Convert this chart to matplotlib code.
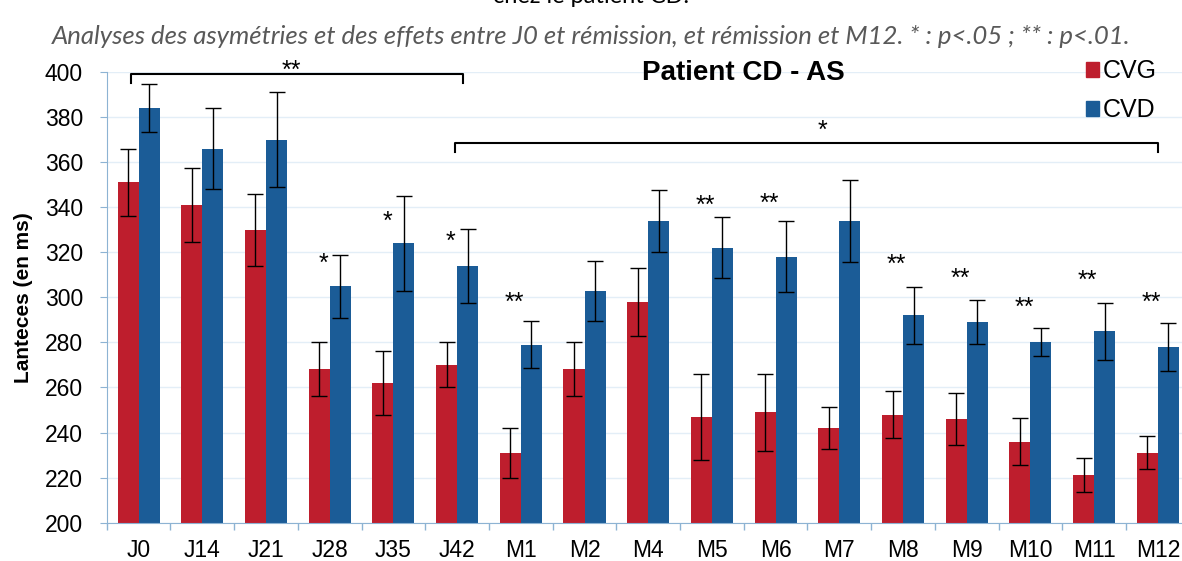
import numpy as np
import matplotlib
matplotlib.use("Agg")
import matplotlib.pyplot as plt
from matplotlib.patches import Patch

# data
periods = ["J0", "J14", "J21", "J28", "J35", "J42", "M1", "M2", "M4", "M5",
           "M6", "M7", "M8", "M9", "M10", "M11", "M12"]
cvg = [351, 341, 330, 268, 262, 270, 231, 268, 298, 247, 249, 242, 248, 246, 236, 221, 231]
cvg_err = [15, 16.5, 16, 12, 14, 10, 11, 12, 15, 19, 17, 9.5, 10.5, 11.5, 10.5, 7.5, 7.3]
cvd = [384, 366, 370, 305, 324, 314, 279, 303, 334, 322, 318, 334, 292, 289, 280, 285, 278]
cvd_err = [10.5, 18, 21, 14, 21, 16.5, 10.5, 13.3, 13.8, 13.5, 15.7, 18.2, 12.5, 9.7, 6.2, 12.6, 10.5]

# significance marks: (category index, label, height)
stars = [(3, "*", 315), (4, "*", 333.5), (5, "*", 324.5), (6, "**", 297.5),
         (9, "**", 340.7), (10, "**", 341.5), (12, "**", 314.6), (13, "**", 308.2),
         (14, "**", 295.2), (15, "**", 307.5), (16, "**", 297.5)]

red = "#BE1E2D"
blue = "#1B5C97"
axis_col = "#8DB3D3"

plt.rcParams['font.family'] = ['Liberation Sans', 'DejaVu Sans']

fig = plt.figure(figsize=(11.82, 5.61), dpi=100)
ax = fig.add_axes([0.0903, 0.0683, 0.9162, 0.8034])

x = np.arange(len(periods))
w = 0.33
ax.bar(x - w / 2, cvg, w, color=red, zorder=2)
ax.bar(x + w / 2, cvd, w, color=blue, zorder=2)
ax.errorbar(x - w / 2, cvg, yerr=cvg_err, fmt="none", ecolor="black",
            elinewidth=1, capsize=6, capthick=1, zorder=3)
ax.errorbar(x + w / 2, cvd, yerr=cvd_err, fmt="none", ecolor="black",
            elinewidth=1, capsize=6, capthick=1, zorder=3)

ax.set_xlim(-0.5, len(periods) - 0.5)
ax.set_ylim(200, 400)
ax.set_yticks(np.arange(200, 401, 20))
ax.set_xticks(x)
ax.set_xticklabels(periods)
ax.set_xticks(np.arange(-0.5, len(periods), 1), minor=True)
ax.tick_params(axis="x", which="major", length=0, pad=12, labelsize=16.5)
ax.tick_params(axis="x", which="minor", length=5, color=axis_col, width=1)
ax.tick_params(axis="y", length=5, color=axis_col, labelsize=16.5, pad=12)
ax.yaxis.grid(True, color="#E3EEF7", linewidth=1, zorder=0)
ax.set_axisbelow(True)
for s in ["top", "right"]:
    ax.spines[s].set_visible(False)
for s in ["left", "bottom"]:
    ax.spines[s].set_color(axis_col)

ax.set_ylabel("Lanteces (en ms)", fontsize=15, fontweight="bold")
ax.yaxis.set_label_coords(-0.068, 0.5)

for i, lab, h in stars:
    ax.text(i - 0.1, h, lab, ha="center", va="center", fontsize=18)

# brackets
ax.plot([-0.12, -0.12, 5.1, 5.1], [395.3, 399.1, 399.1, 395.3], color="black",
        lw=1.5, clip_on=False, zorder=4)
ax.text(2.4, 400.5, "**", ha="center", va="center", fontsize=18, clip_on=False)
ax.plot([4.97, 4.97, 16.0, 16.0], [364.7, 368.6, 368.6, 364.7], color="black",
        lw=1.5, zorder=4)
ax.text(10.73, 374, "*", ha="center", va="center", fontsize=18)

handles = [Patch(color=red, label="CVG"), Patch(color=blue, label="CVD")]
fig.legend(handles=handles, loc="upper right", bbox_to_anchor=(0.998, 0.935),
           frameon=False, fontsize=18, handlelength=0.55, handleheight=0.55,
           handletextpad=0.15, labelspacing=0.6)

fig.text(0.629, 0.870, "Patient CD - AS", ha="center", va="center",
         fontsize=20, fontweight="bold")
fig.text(0.5, 1 - 37 / 561, "Analyses des asymétries et des effets entre J0 et rémission, "
         "et rémission et M12. * : p<.05 ; ** : p<.01.", ha="center", va="center",
         fontsize=18.5, style="italic", color="#595959", family=["Lato", "DejaVu Sans"])
fig.text(0.5, 1 - 3 / 561, "chez le patient CD.", ha="center", va="baseline",
         fontsize=17, family=["Lato", "DejaVu Sans"])

fig.savefig("out.png", dpi=100)
